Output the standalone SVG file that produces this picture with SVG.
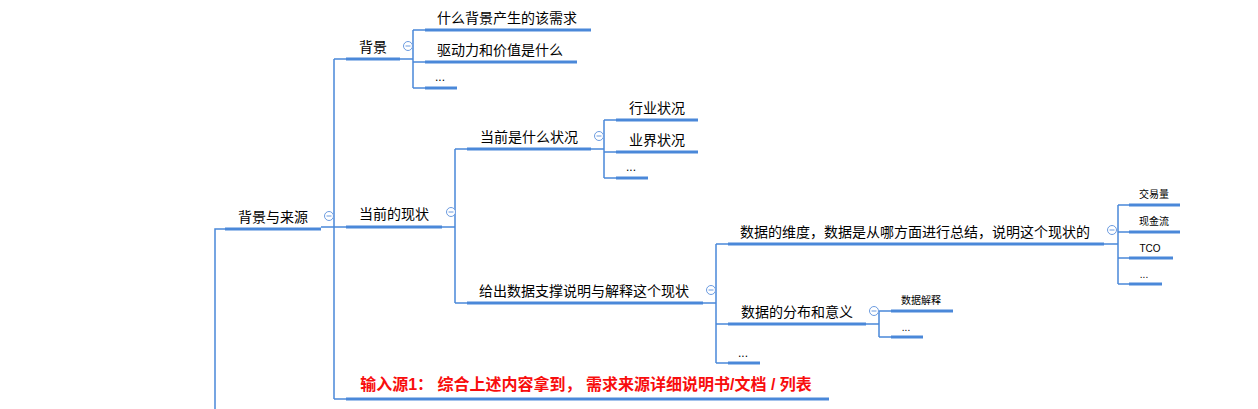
<svg xmlns="http://www.w3.org/2000/svg" width="1258" height="409" viewBox="0 0 1258 409">
<style>
text{font-family:"Liberation Sans","Noto Sans CJK SC",sans-serif;fill:#000;text-anchor:middle}
.m{font-size:14px}
.s{font-size:10px}
.d{font-size:12px}
.r{font-size:16px;font-weight:bold;fill:#f80d0d}
.u{stroke:#4a88d9;stroke-width:3;fill:none}
.c{stroke:#4a88d9;stroke-width:1.5;fill:none}
.t{fill:#fff;stroke:#6b9be0;stroke-width:1}
.tm{stroke:#6b9be0;stroke-width:1}
</style>
<rect width="1258" height="409" fill="#fff"/>
<g id="connectors">
<path class="c" d="M215,409V229H225"/>
<path class="c" d="M321,227H334M334,59V399M334,59H346M334,227H346M334,399H346"/>
<path class="c" d="M400,59H413M413,30V88M413,30H425M413,62H425M413,88H425"/>
<path class="c" d="M442,227H455M455,149V303M455,149H467M455,303H467"/>
<path class="c" d="M591,149H604M604,120V178M604,120H616M604,152H616M604,178H616"/>
<path class="c" d="M703,303H716M716,244V363M716,244H728M716,324H728M716,363H728"/>
<path class="c" d="M1104,244H1118M1118,205V284M1118,205H1129M1118,232H1129M1118,258H1129M1118,284H1129"/>
<path class="c" d="M866,324H879M879,311V337M879,311H891M879,337H891"/>
</g>
<g id="n-root"><line class="u" x1="225" y1="229" x2="321" y2="229"/><text class="m" x="273" y="222">背景与来源</text><circle class="t" cx="329" cy="216" r="4.5"/><line class="tm" x1="326.5" y1="216" x2="331.5" y2="216"/></g>
<g id="n-bg"><line class="u" x1="346" y1="59" x2="400" y2="59"/><text class="m" x="373" y="52">背景</text><circle class="t" cx="408" cy="46" r="4.5"/><line class="tm" x1="405.5" y1="46" x2="410.5" y2="46"/></g>
<g id="n-bg1"><line class="u" x1="425" y1="30" x2="591" y2="30"/><text class="m" x="507" y="23">什么背景产生的该需求</text></g>
<g id="n-bg2"><line class="u" x1="425" y1="62" x2="577" y2="62"/><text class="m" x="500" y="55">驱动力和价值是什么</text></g>
<g id="n-bg3"><line class="u" x1="425" y1="88" x2="457" y2="88"/><text class="d" x="440" y="81">...</text></g>
<g id="n-cur"><line class="u" x1="346" y1="227" x2="442" y2="227"/><text class="m" x="394" y="219">当前的现状</text><circle class="t" cx="451" cy="212" r="4.5"/><line class="tm" x1="448.5" y1="212" x2="453.5" y2="212"/></g>
<g id="n-what"><line class="u" x1="467" y1="149" x2="591" y2="149"/><text class="m" x="529" y="142">当前是什么状况</text><circle class="t" cx="599" cy="136" r="4.5"/><line class="tm" x1="596.5" y1="136" x2="601.5" y2="136"/></g>
<g id="n-what1"><line class="u" x1="616" y1="120" x2="698" y2="120"/><text class="m" x="657" y="113">行业状况</text></g>
<g id="n-what2"><line class="u" x1="616" y1="152" x2="698" y2="152"/><text class="m" x="657" y="145">业界状况</text></g>
<g id="n-what3"><line class="u" x1="616" y1="178" x2="648" y2="178"/><text class="d" x="631" y="171">...</text></g>
<g id="n-data"><line class="u" x1="467" y1="303" x2="703" y2="303"/><text class="m" x="584" y="296">给出数据支撑说明与解释这个现状</text><circle class="t" cx="711" cy="290" r="4.5"/><line class="tm" x1="708.5" y1="290" x2="713.5" y2="290"/></g>
<g id="n-dim"><line class="u" x1="728" y1="244" x2="1104" y2="244"/><text class="m" x="915" y="237">数据的维度，数据是从哪方面进行总结，说明这个现状的</text><circle class="t" cx="1112" cy="230" r="4.5"/><line class="tm" x1="1109.5" y1="230" x2="1114.5" y2="230"/></g>
<g id="n-dim1"><line class="u" x1="1129" y1="205" x2="1180" y2="205"/><text class="s" x="1154" y="198">交易量</text></g>
<g id="n-dim2"><line class="u" x1="1129" y1="232" x2="1180" y2="232"/><text class="s" x="1154" y="225">现金流</text></g>
<g id="n-dim3"><line class="u" x1="1129" y1="258" x2="1173" y2="258"/><text class="s" x="1150" y="252">TCO</text></g>
<g id="n-dim4"><line class="u" x1="1129" y1="284" x2="1162" y2="284"/><text class="s" x="1144" y="278">...</text></g>
<g id="n-dist"><line class="u" x1="728" y1="324" x2="866" y2="324"/><text class="m" x="797" y="317">数据的分布和意义</text><circle class="t" cx="874" cy="311" r="4.5"/><line class="tm" x1="871.5" y1="311" x2="876.5" y2="311"/></g>
<g id="n-dist1"><line class="u" x1="891" y1="311" x2="953" y2="311"/><text class="s" x="921" y="304">数据解释</text></g>
<g id="n-dist2"><line class="u" x1="891" y1="337" x2="923" y2="337"/><text class="s" x="906" y="331">...</text></g>
<g id="n-data3"><line class="u" x1="728" y1="363" x2="760" y2="363"/><text class="d" x="743" y="357">...</text></g>
<g id="n-input"><line class="u" x1="346" y1="399" x2="829" y2="399"/><text class="r" x="586" y="390">输入源1： 综合上述内容拿到， 需求来源详细说明书/文档 / 列表</text></g>
</svg>
